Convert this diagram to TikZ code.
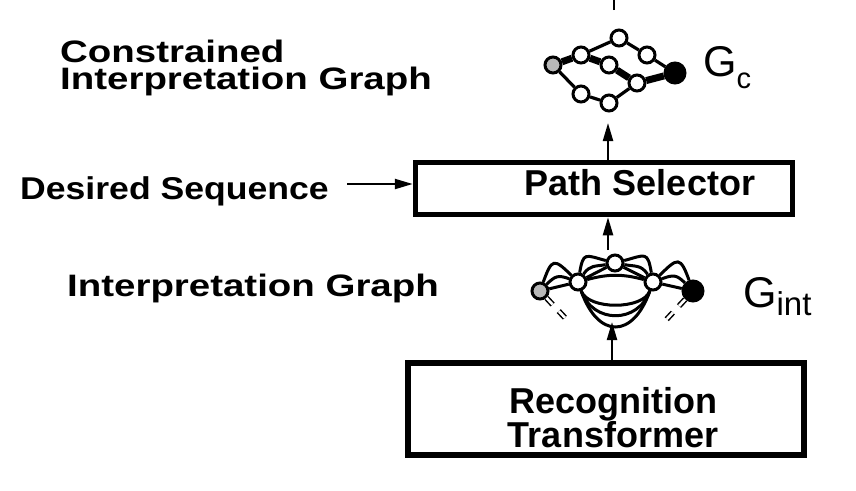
\documentclass[tikz,border=0pt]{standalone}
\usepackage{fontspec}
\setmainfont{Liberation Sans}
\newfontfamily\widefont{Liberation Sans}[FakeStretch=1.24]
\usepackage{tikz}
\usetikzlibrary{arrows.meta}
\tikzset{
box/.style={
  draw,
  rectangle,
  line width=5.5pt,
  inner sep=0pt,
  font=\fontsize{36}{34}\selectfont\bfseries
},
caption/.style={
  anchor=base west,
  inner sep=0pt,
  align=left,
  font=\widefont\fontsize{31}{26.5}\selectfont\bfseries
},
vertex/.style={circle,draw,fill=white,line width=3pt,minimum size=16pt,inner sep=0pt},
source/.style={vertex,fill=black!28},
sink/.style={vertex,fill=black,minimum size=20pt},
arr/.style={-{Triangle[length=18pt,width=10pt]},line width=2.2pt},
thin edge/.style={line width=3.2pt},
thick edge/.style={line width=7pt},
multi edge/.style={line width=3pt},
cut edge/.style={line width=1.5pt,double,double distance=2.6pt,dash pattern=on 9pt off 9pt}
}

\begin{document}
\begin{tikzpicture}[x=1pt,y=-1pt]
\useasboundingbox (0,0) rectangle (856,490);

% the labels on the left
\node[caption] (lblcig) at (60,89) {Constrained\\Interpretation Graph};
\node[caption,font=\widefont\fontsize{31.5}{26}\selectfont\bfseries\addfontfeature{FakeStretch=1.13}] (lblds) at (20,199) {Desired Sequence};
\node[caption] (lblig) at (67,296) {Interpretation Graph};

% the boxes
\node[box,minimum width=377pt,minimum height=52pt,text height=26pt,text depth=13pt] (sel) at (604,188.5) {\hspace*{72pt}Path Selector};
\node[box,minimum width=396pt,minimum height=92pt,align=center] (rec) at (606,409)
  {\rule{0pt}{43pt}\hspace*{14pt}Recognition\\\hspace*{14pt}Transformer};

% constrained graph
\node[source] (c0) at (553,65) {};
\node[vertex] (c1) at (581,55) {};
\node[vertex] (c2) at (619,38) {};
\node[vertex] (c3) at (647,55) {};
\node[vertex] (c4) at (609,65) {};
\node[vertex] (c5) at (637,83) {};
\node[vertex] (c6) at (581,94) {};
\node[vertex] (c7) at (609,103) {};
\node[sink] (c8) at (675,73) {};
\draw[thick edge] (c0) -- (c1) -- (c4) -- (c5) -- (c8);
\draw[thin edge] (c1) -- (c2) -- (c3) -- (c8);
\draw[thin edge] (c0) -- (c6) -- (c7) -- (c5);
\node[anchor=base west,inner sep=0pt] (gc) at (703,76)
  {\fontsize{43}{43}\selectfont G\raisebox{-12pt}{\fontsize{29}{29}\selectfont c}};

% interpretation graph
\node[source] (i0) at (540,291) {};
\node[vertex] (i1) at (578,282) {};
\node[vertex] (i2) at (615,263) {};
\node[vertex] (i3) at (653,282) {};
\node[sink] (i4) at (693,291) {};
\draw[multi edge] (i0) -- (i1) -- (i2) -- (i3) -- (i4);
\draw[multi edge] (i0) to[out=70,in=135,looseness=2.2] (i1);
\draw[multi edge] (i0) to[out=45,in=160,looseness=1.3] (i1);
\draw[multi edge] (i1) to[out=80,in=165,looseness=1.9] (i2);
\draw[multi edge] (i1) to[out=55,in=190,looseness=1.2] (i2);
\draw[multi edge] (i2) to[out=15,in=100,looseness=1.9] (i3);
\draw[multi edge] (i2) to[out=-10,in=125,looseness=1.2] (i3);
\draw[multi edge] (i3) to[out=45,in=110,looseness=2.2] (i4);
\draw[multi edge] (i3) to[out=20,in=135,looseness=1.3] (i4);
\draw[multi edge] (i1) to[out=15,in=165] (i3);
\draw[multi edge] (i1) .. controls +(10,28) and +(-10,28) .. (i3);
\draw[multi edge] (i1) .. controls +(15,42) and +(-15,42) .. (i3);
\draw[multi edge] (i1) .. controls +(20,57) and +(-20,57) .. (i3);
\draw[cut edge] (i0) -- ++(47:42);
\draw[cut edge] (i4) -- ++(133:42);
\node[anchor=base west,inner sep=0pt] (gint) at (743,307)
  {\fontsize{43}{43}\selectfont G\raisebox{-8pt}{\fontsize{33}{33}\selectfont int}};

% the arrows
\coordinate (gcin) at (608,123);
\coordinate (gcout) at (614,10);
\coordinate (gcend) at (614,0);
\coordinate (gintin) at (612,322);
\coordinate (gintout) at (608,250);
\coordinate (dsout) at (347,184);
\draw[arr] (rec.north -| gintin) -- (gintin);
\draw[arr] (gintout) -- (gintout |- sel.south);
\draw[arr] (sel.north -| gcin) -- (gcin);
\draw[arr] (dsout) -- (dsout -| sel.west);
\draw[line width=2.2pt] (gcout) -- (gcend);
\end{tikzpicture}
\end{document}
